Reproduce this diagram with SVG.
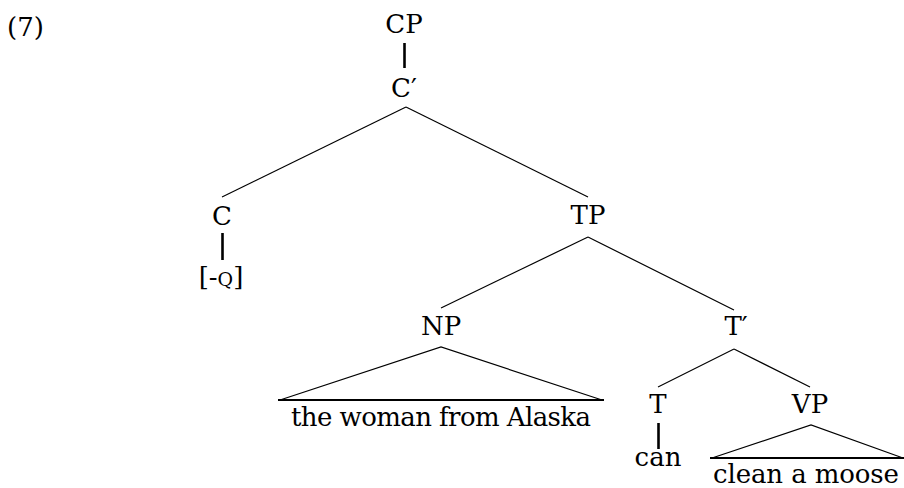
<svg xmlns="http://www.w3.org/2000/svg" width="904" height="488" viewBox="0 0 904 488">
<style>
text{font-family:"DejaVu Serif",serif;font-size:26px;fill:#000;text-anchor:middle}
.e{stroke:#000;stroke-width:1.2;fill:none}
.u{stroke:#000;stroke-width:2.6;fill:none}
.b{stroke:#000;stroke-width:2.2;fill:none}
</style>
<rect width="904" height="488" fill="#fff"/>
<text x="7" y="36" style="text-anchor:start">(7)</text>
<g id="connectors">
<line class="u" x1="404.5" y1="43" x2="404.5" y2="68"/>
<line class="e" x1="406" y1="107" x2="222" y2="197"/>
<line class="e" x1="406" y1="107" x2="588" y2="197"/>
<line class="u" x1="222.5" y1="233" x2="222.5" y2="260"/>
<line class="e" x1="588" y1="237" x2="441" y2="308"/>
<line class="e" x1="588" y1="237" x2="734" y2="310"/>
<line class="e" x1="734" y1="349" x2="658" y2="387"/>
<line class="e" x1="734" y1="349" x2="810" y2="387"/>
<line class="u" x1="658.5" y1="423" x2="658.5" y2="449"/>
</g>
<g id="CP"><text x="404" y="33">CP</text></g>
<g id="Cbar"><text x="404" y="97">C′</text></g>
<g id="C"><text x="222" y="225">C</text></g>
<g id="Q"><text x="221" y="286">[-<tspan font-size="19">Q</tspan>]</text></g>
<g id="TP"><text x="588" y="224">TP</text></g>
<g id="NP"><text x="441" y="335">NP</text>
<polyline class="e" points="280,400 441,347 602,400"/>
<line class="b" x1="278" y1="400" x2="604" y2="400"/>
<text x="441" y="426" textLength="300">the woman from Alaska</text></g>
<g id="Tbar"><text x="736" y="335">T′</text></g>
<g id="T"><text x="658" y="413">T</text></g>
<g id="can"><text x="658" y="466">can</text></g>
<g id="VP"><text x="810" y="413">VP</text>
<polyline class="e" points="712,458 811,425 903,458"/>
<line class="b" x1="710" y1="458" x2="904" y2="458"/>
<text x="806" y="483" textLength="186">clean a moose</text></g>
</svg>
